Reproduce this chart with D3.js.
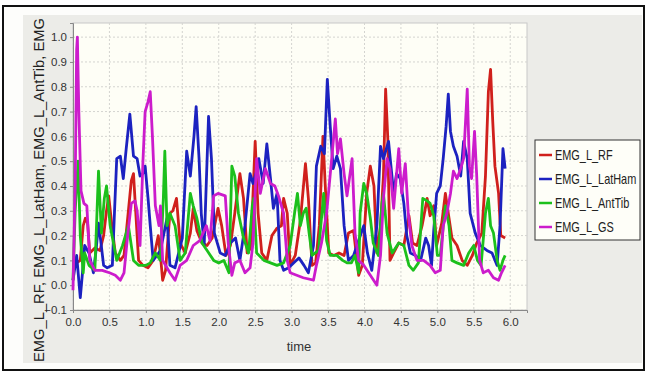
<!DOCTYPE html>
<html>
<head>
<meta charset="utf-8">
<script src="https://cdn.jsdelivr.net/npm/d3@7"></script>
<style>
  body { margin: 0; background: #fff; }
  svg { display: block; font-family: "Liberation Sans", Arial, sans-serif; }
</style>
</head>
<body>
<svg id="chart" width="648" height="373"></svg>
<script>
// series names and colours
const seriesNames = ["EMG_L_RF", "EMG_L_LatHam", "EMG_L_AntTib", "EMG_L_GS"];
const seriesColors = ["#d0201c", "#1c22c0", "#1cc01c", "#cc1ccc"];
// the y title is cut by the panel in the picture, only this part shows
const yTitle = "EMG_L_RF, EMG_L_LatHam, EMG_L_AntTib, EMG";

// [time, value]
const rf = [[0.0,0.08],[0.1,0.1],[0.14,0.24],[0.17,0.27],[0.2,0.25],[0.23,0.13],[0.3,0.15],[0.37,0.14],[0.42,0.2],[0.46,0.3],[0.49,0.36],[0.53,0.25],[0.58,0.13],[0.65,0.1],[0.7,0.12],[0.76,0.3],[0.8,0.42],[0.83,0.45],[0.86,0.3],[0.9,0.1],[0.96,0.08],[1.03,0.07],[1.1,0.1],[1.17,0.2],[1.2,0.12],[1.23,0.02],[1.27,0.06],[1.33,0.29],[1.37,0.3],[1.42,0.35],[1.47,0.17],[1.54,0.13],[1.61,0.21],[1.65,0.31],[1.7,0.22],[1.77,0.17],[1.84,0.16],[1.91,0.19],[1.99,0.31],[2.04,0.24],[2.1,0.12],[2.16,0.16],[2.22,0.29],[2.29,0.45],[2.34,0.35],[2.39,0.13],[2.44,0.15],[2.5,0.58],[2.54,0.29],[2.59,0.13],[2.66,0.1],[2.73,0.2],[2.8,0.23],[2.86,0.24],[2.89,0.35],[2.94,0.29],[2.98,0.08],[3.05,0.12],[3.12,0.26],[3.19,0.49],[3.23,0.35],[3.28,0.08],[3.33,0.09],[3.38,0.24],[3.43,0.6],[3.46,0.41],[3.51,0.13],[3.58,0.12],[3.65,0.13],[3.72,0.12],[3.78,0.21],[3.85,0.22],[3.92,0.04],[3.97,0.08],[4.03,0.37],[4.08,0.48],[4.13,0.4],[4.17,0.13],[4.22,0.24],[4.26,0.44],[4.29,0.79],[4.32,0.59],[4.35,0.1],[4.4,0.13],[4.47,0.17],[4.54,0.16],[4.61,0.28],[4.66,0.17],[4.72,0.16],[4.79,0.24],[4.86,0.35],[4.9,0.28],[4.95,0.32],[4.99,0.16],[5.06,0.25],[5.11,0.37],[5.16,0.27],[5.2,0.19],[5.27,0.16],[5.34,0.1],[5.41,0.08],[5.48,0.12],[5.54,0.17],[5.61,0.21],[5.66,0.44],[5.7,0.78],[5.73,0.87],[5.76,0.66],[5.79,0.48],[5.84,0.37],[5.87,0.2],[5.93,0.19]];

const latHam = [[0.0,0.02],[0.05,0.12],[0.1,-0.05],[0.13,0.05],[0.16,0.16],[0.22,0.13],[0.28,0.05],[0.32,0.15],[0.35,0.25],[0.38,0.18],[0.42,0.08],[0.47,0.07],[0.54,0.08],[0.57,0.3],[0.6,0.51],[0.65,0.52],[0.69,0.43],[0.73,0.55],[0.78,0.69],[0.83,0.52],[0.88,0.51],[0.92,0.44],[0.96,0.45],[0.99,0.48],[1.03,0.35],[1.06,0.24],[1.1,0.1],[1.2,0.14],[1.29,0.27],[1.33,0.08],[1.4,0.07],[1.5,0.19],[1.56,0.54],[1.61,0.44],[1.66,0.6],[1.69,0.72],[1.73,0.51],[1.76,0.29],[1.8,0.16],[1.86,0.68],[1.9,0.51],[1.94,0.21],[2.02,0.13],[2.09,0.12],[2.16,0.17],[2.23,0.19],[2.29,0.1],[2.36,0.24],[2.43,0.45],[2.47,0.41],[2.52,0.46],[2.55,0.51],[2.61,0.41],[2.66,0.57],[2.71,0.43],[2.75,0.31],[2.8,0.37],[2.84,0.1],[2.89,0.06],[2.96,0.07],[3.03,0.09],[3.1,0.11],[3.17,0.08],[3.23,0.05],[3.3,0.16],[3.34,0.48],[3.4,0.56],[3.45,0.53],[3.49,0.83],[3.53,0.64],[3.57,0.47],[3.62,0.52],[3.67,0.47],[3.72,0.24],[3.78,0.1],[3.85,0.12],[3.92,0.18],[3.99,0.24],[4.04,0.13],[4.1,0.06],[4.17,0.24],[4.22,0.56],[4.26,0.51],[4.33,0.58],[4.4,0.37],[4.44,0.45],[4.49,0.43],[4.54,0.33],[4.58,0.2],[4.63,0.13],[4.7,0.12],[4.77,0.1],[4.84,0.19],[4.88,0.16],[4.92,0.08],[4.95,0.22],[4.99,0.37],[5.04,0.4],[5.08,0.51],[5.12,0.64],[5.15,0.77],[5.18,0.62],[5.22,0.56],[5.27,0.52],[5.32,0.44],[5.36,0.58],[5.41,0.51],[5.45,0.29],[5.52,0.21],[5.59,0.16],[5.68,0.14],[5.75,0.13],[5.82,0.08],[5.86,0.24],[5.9,0.55],[5.93,0.47]];

const antTib = [[0.0,0.02],[0.03,0.3],[0.07,0.5],[0.1,0.2],[0.14,0.05],[0.16,0.13],[0.22,0.08],[0.3,0.06],[0.33,0.3],[0.35,0.46],[0.39,0.21],[0.43,0.35],[0.46,0.4],[0.51,0.24],[0.6,0.1],[0.68,0.16],[0.76,0.24],[0.83,0.1],[0.9,0.08],[1.0,0.08],[1.06,0.09],[1.13,0.13],[1.2,0.1],[1.24,0.35],[1.26,0.54],[1.29,0.24],[1.33,0.29],[1.4,0.24],[1.47,0.1],[1.54,0.13],[1.61,0.37],[1.65,0.32],[1.7,0.27],[1.77,0.17],[1.84,0.14],[1.93,0.1],[2.0,0.09],[2.07,0.1],[2.14,0.05],[2.18,0.48],[2.22,0.44],[2.27,0.29],[2.34,0.19],[2.41,0.13],[2.46,0.32],[2.48,0.35],[2.52,0.13],[2.62,0.1],[2.71,0.09],[2.8,0.08],[2.89,0.09],[2.98,0.16],[3.04,0.29],[3.08,0.37],[3.12,0.24],[3.16,0.29],[3.2,0.31],[3.24,0.21],[3.28,0.12],[3.37,0.14],[3.41,0.27],[3.44,0.37],[3.48,0.18],[3.53,0.12],[3.62,0.12],[3.7,0.1],[3.76,0.09],[3.82,0.09],[3.87,0.12],[3.92,0.05],[3.94,0.29],[3.99,0.41],[4.03,0.37],[4.08,0.27],[4.12,0.17],[4.19,0.12],[4.24,0.33],[4.26,0.37],[4.31,0.21],[4.38,0.13],[4.47,0.17],[4.54,0.16],[4.61,0.08],[4.67,0.06],[4.74,0.09],[4.8,0.35],[4.86,0.34],[4.9,0.33],[4.95,0.28],[5.0,0.12],[5.04,0.12],[5.11,0.32],[5.16,0.24],[5.2,0.1],[5.27,0.09],[5.36,0.08],[5.43,0.13],[5.5,0.16],[5.55,0.1],[5.6,0.08],[5.66,0.29],[5.7,0.35],[5.73,0.24],[5.77,0.21],[5.82,0.1],[5.86,0.06],[5.9,0.1],[5.93,0.12]];

const gs = [[0.0,-0.02],[0.03,0.4],[0.05,0.95],[0.06,1.0],[0.08,0.7],[0.11,0.38],[0.15,0.33],[0.19,0.32],[0.23,0.1],[0.3,0.06],[0.4,0.06],[0.5,0.05],[0.58,0.04],[0.65,0.02],[0.7,0.05],[0.75,0.2],[0.8,0.33],[0.85,0.34],[0.88,0.3],[0.92,0.16],[0.96,0.5],[0.99,0.7],[1.03,0.74],[1.06,0.78],[1.09,0.6],[1.13,0.32],[1.18,0.24],[1.2,0.32],[1.23,0.1],[1.33,0.05],[1.4,0.02],[1.47,0.08],[1.56,0.1],[1.65,0.16],[1.74,0.18],[1.83,0.24],[1.88,0.18],[1.93,0.36],[1.99,0.37],[2.09,0.36],[2.13,0.17],[2.18,0.04],[2.22,0.09],[2.29,0.1],[2.36,0.05],[2.43,0.07],[2.47,0.17],[2.52,0.51],[2.57,0.37],[2.64,0.47],[2.71,0.41],[2.77,0.4],[2.82,0.36],[2.89,0.29],[2.94,0.1],[2.98,0.05],[3.07,0.04],[3.16,0.03],[3.3,0.02],[3.34,0.08],[3.41,0.17],[3.48,0.29],[3.55,0.51],[3.6,0.67],[3.63,0.53],[3.67,0.59],[3.72,0.45],[3.76,0.36],[3.83,0.51],[3.87,0.21],[3.92,0.1],[3.99,0.08],[4.08,0.04],[4.17,0.0],[4.22,0.12],[4.26,0.35],[4.31,0.51],[4.35,0.47],[4.4,0.31],[4.47,0.55],[4.51,0.37],[4.56,0.49],[4.6,0.29],[4.65,0.16],[4.72,0.1],[4.81,0.1],[4.9,0.08],[4.97,0.05],[5.04,0.06],[5.08,0.24],[5.13,0.29],[5.18,0.37],[5.22,0.46],[5.27,0.43],[5.32,0.47],[5.36,0.51],[5.41,0.79],[5.44,0.48],[5.47,0.43],[5.51,0.62],[5.54,0.44],[5.58,0.1],[5.63,0.05],[5.7,0.06],[5.77,0.03],[5.84,0.02],[5.88,0.05],[5.93,0.08]];

const xTicks = [0, 0.5, 1, 1.5, 2, 2.5, 3, 3.5, 4, 4.5, 5, 5.5, 6];
const yTicks = [-0.1, 0, 0.1, 0.2, 0.3, 0.4, 0.5, 0.6, 0.7, 0.8, 0.9, 1.0];

const allSeries = [rf, latHam, antTib, gs];

const svg = d3.select("#chart");

// outer frame + grey panel
svg.append("rect").attr("x", 3).attr("y", 6).attr("width", 641).attr("height", 364)
  .attr("fill", "#fdfdfb").attr("stroke", "#111").attr("stroke-width", 2);
svg.append("rect").attr("x", 23).attr("y", 15).attr("width", 619).attr("height", 348)
  .attr("fill", "#ecece8");

const plotL = 73, plotR = 527, plotT = 23, plotB = 310;

const x = d3.scaleLinear().domain([0, 6.23]).range([plotL, plotR]);
const y = d3.scaleLinear().domain([-0.1, 1.057]).range([plotB, plotT]);

svg.append("rect").attr("x", plotL).attr("y", plotT)
  .attr("width", plotR - plotL).attr("height", plotB - plotT)
  .attr("fill", "#fefef6").attr("stroke", "#c8c8c8");

// dotted grid
svg.append("g").selectAll("line").data(xTicks).join("line")
  .attr("x1", d => x(d)).attr("x2", d => x(d)).attr("y1", plotT).attr("y2", plotB)
  .attr("stroke", "#d4d4d0").attr("stroke-dasharray", "2,2");
svg.append("g").selectAll("line").data(yTicks).join("line")
  .attr("x1", plotL).attr("x2", plotR).attr("y1", d => y(d)).attr("y2", d => y(d))
  .attr("stroke", "#d4d4d0").attr("stroke-dasharray", "2,2");

// axes
const xAxis = svg.append("g").attr("transform", "translate(0," + plotB + ")")
  .call(d3.axisBottom(x).tickValues(xTicks).tickFormat(d3.format(".1f")).tickSize(3).tickPadding(5));
const yAxis = svg.append("g").attr("transform", "translate(" + plotL + ",0)")
  .call(d3.axisLeft(y).tickValues(yTicks).tickFormat(d3.format(".1f")).tickSize(3).tickPadding(3));
[xAxis, yAxis].forEach(a => {
  a.select(".domain").attr("stroke", "#888");
  a.selectAll(".tick line").attr("stroke", "#888");
  a.selectAll("text").attr("fill", "#333").style("font-size", "11.5px")
    .style("font-family", "'Liberation Sans', Arial, sans-serif");
});

// lines
const line = d3.line().x(d => x(d[0])).y(d => y(d[1]));
svg.append("g").selectAll("path").data(allSeries).join("path")
  .attr("d", line)
  .attr("fill", "none")
  .attr("stroke", (d, i) => seriesColors[i])
  .attr("stroke-width", 2.8)
  .attr("stroke-linejoin", "round");

// axis titles
svg.append("text").attr("x", 299).attr("y", 351).attr("text-anchor", "middle")
  .attr("fill", "#333").style("font-size", "13px").text("time");

svg.append("text")
  .attr("transform", "translate(44,362) rotate(-90)")
  .attr("fill", "#222").style("font-size", "14.5px")
  .attr("textLength", 344).attr("lengthAdjust", "spacingAndGlyphs")
  .text(yTitle);

// legend
const legend = svg.append("g").attr("transform", "translate(535,140)");
legend.append("rect").attr("width", 105).attr("height", 100)
  .attr("fill", "#fefef8").attr("stroke", "#333");
const rows = legend.selectAll("g").data(seriesNames).join("g")
  .attr("transform", (d, i) => "translate(0," + (15 + i * 24) + ")");
rows.append("line").attr("x1", 4).attr("x2", 17)
  .attr("stroke", (d, i) => seriesColors[i]).attr("stroke-width", 2.5);
rows.append("text").attr("transform", "translate(20,5) scale(0.78,1)")
  .attr("fill", "#222").style("font-size", "14px").text(d => d);
</script>
</body>
</html>
